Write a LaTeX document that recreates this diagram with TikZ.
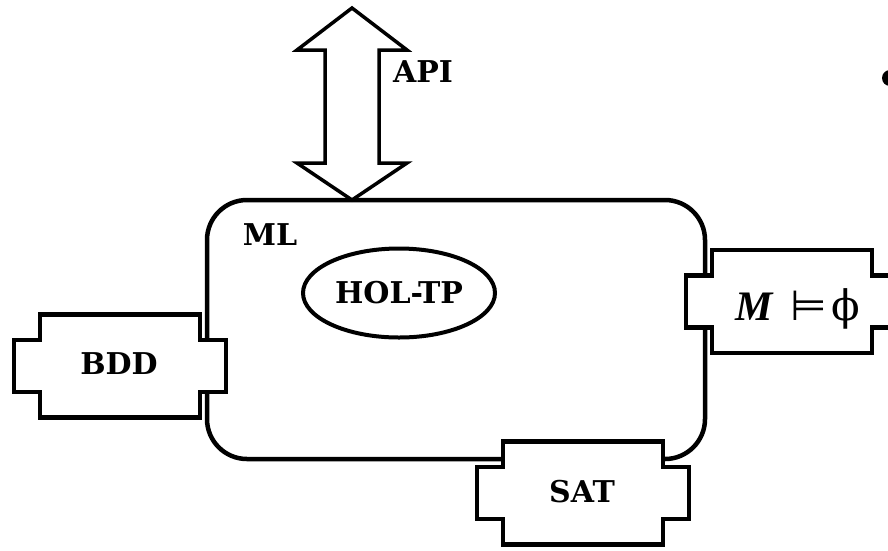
\documentclass[tikz,border=0pt]{standalone}
\usepackage{fontspec}
\setmainfont{DejaVu Serif}
\newfontfamily\timesfont{Liberation Serif}
\newfontfamily\symsans{DejaVu Sans}
\usetikzlibrary{shapes.geometric}
\tikzset{
  lbl/.style={font=\fontsize{30}{32}\selectfont\bfseries, inner sep=0pt},
  plug/.pic={\draw[line width=4.5pt, fill=white, line join=miter]
     (-80,-51.5) -- (80,-51.5) -- (80,-26) -- (106,-26) -- (106,26) -- (80,26)
     -- (80,51.5) -- (-80,51.5) -- (-80,26) -- (-106,26) -- (-106,-26) -- (-80,-26) -- cycle;}
}
\begin{document}
\begin{tikzpicture}[x=1pt,y=-1pt]
\fill[white] (0,0) rectangle (888,550);
\useasboundingbox (0,0) rectangle (888,550);
% ML box
\node[draw, line width=4.5pt, rounded corners=40pt, minimum width=498pt, minimum height=259pt] (mlbox) at (456,329.5) {};
\node[lbl] (ml) at (270,235) {ML};
% API arrow
\draw[line width=3.5pt, fill=white, line join=miter]
  (352,8) -- (407,50) -- (379,50) -- (379,163) -- (407,163) -- (352,200)
  -- (297,163) -- (325,163) -- (325,50) -- (297,50) -- cycle;
\node[lbl] (api) at (423,72) {API};
% HOL-TP
\node[draw, ellipse, line width=4pt, minimum width=192pt, minimum height=89pt, lbl] (hol) at (399,293) {HOL-TP};
% plugs
\pic at (120,366) {plug};
\node[lbl] (bdd) at (119,364) {BDD};
\pic at (583,493) {plug};
\node[lbl] (sat) at (582,492) {SAT};
\pic at (792,301.5) {plug};
\node[inner sep=0pt, anchor=base west] (mphi) at (735,320)
  {\fontsize{42}{44}\selectfont{\timesfont\bfseries\itshape M}\hspace{18pt}{\symsans ⊨}\hspace{4pt}{ϕ}};
% bullet
\fill (890,78) circle (8);
\end{tikzpicture}
\end{document}
